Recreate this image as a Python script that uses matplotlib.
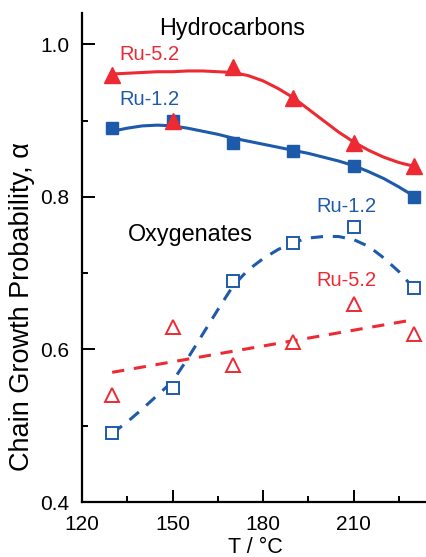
import matplotlib
matplotlib.use("Agg")
import matplotlib.pyplot as plt
from matplotlib.ticker import MultipleLocator

plt.rcParams["font.family"] = ["Liberation Sans", "DejaVu Sans"]

RED = "#ED2A33"
BLUE = "#1E5AAA"

# measured points
temps = [130, 150, 170, 190, 210, 230]
hc_ru52 = [0.96, 0.90, 0.97, 0.93, 0.87, 0.84]
hc_ru12 = [0.89, 0.90, 0.87, 0.86, 0.84, 0.80]
ox_ru12 = [0.49, 0.55, 0.69, 0.74, 0.76, 0.68]
ox_ru52 = [0.54, 0.63, 0.58, 0.61, 0.66, 0.62]

# trend lines
fit_t = [130, 135, 140, 145, 150, 155, 160, 165, 170, 175, 180,
         185, 190, 195, 200, 205, 210, 215, 220, 225, 230]
fit_hc_ru52 = [0.961, 0.962, 0.963, 0.964, 0.964, 0.965, 0.965, 0.964, 0.963, 0.959, 0.952,
               0.942, 0.930, 0.915, 0.900, 0.885, 0.872, 0.861, 0.852, 0.845, 0.840]
fit_hc_ru12 = [0.886, 0.890, 0.893, 0.894, 0.893, 0.890, 0.886, 0.882, 0.877, 0.873, 0.869,
               0.865, 0.861, 0.857, 0.852, 0.847, 0.841, 0.833, 0.824, 0.813, 0.801]
fit_ox_ru12 = [0.490, 0.505, 0.522, 0.540, 0.558, 0.588, 0.620, 0.652, 0.683, 0.704, 0.719,
               0.731, 0.740, 0.746, 0.748, 0.748, 0.744, 0.735, 0.720, 0.702, 0.680]
fit_ox_ru52_t = [130, 230]
fit_ox_ru52 = [0.570, 0.639]

xticks = [120, 150, 180, 210]
yticks = [0.4, 0.6, 0.8, 1.0]
ytick_labels = ["0.4", "0.6", "0.8", "1.0"]

fig = plt.figure(figsize=(4.26, 5.57), dpi=100)
ax = fig.add_axes([0.1925, 0.0987, 0.850, 0.878])

dash = (0, (4, 3.2))
ax.plot(fit_t, fit_hc_ru52, color=RED, lw=2.2)
ax.plot(fit_t, fit_hc_ru12, color=BLUE, lw=2.2)
ax.plot(fit_t, fit_ox_ru12, color=BLUE, lw=2.2, ls=dash)
ax.plot(fit_ox_ru52_t, fit_ox_ru52, color=RED, lw=2.2, ls=dash)

ax.plot(temps, hc_ru12, ls="none", marker="s", ms=8.5, color=BLUE)
ax.plot(temps, hc_ru52, ls="none", marker="^", ms=11, color=RED)
ax.plot(temps, ox_ru12, ls="none", marker="s", ms=8, mfc="white", mec=BLUE, mew=1.4)
ax.plot(temps, ox_ru52, ls="none", marker="^", ms=10.5, mfc="white", mec=RED, mew=1.4)

ax.text(169.7, 1.02, "Hydrocarbons", fontsize=16.8, ha="center", va="center")
ax.text(142.5, 0.986, "Ru-5.2", fontsize=14.5, color=RED, ha="center", va="center")
ax.text(142.5, 0.927, "Ru-1.2", fontsize=14.5, color=BLUE, ha="center", va="center")
ax.text(155.8, 0.751, "Oxygenates", fontsize=16.8, ha="center", va="center")
ax.text(207.5, 0.787, "Ru-1.2", fontsize=14.5, color=BLUE, ha="center", va="center")
ax.text(207.5, 0.690, "Ru-5.2", fontsize=14.5, color=RED, ha="center", va="center")

ax.set_xlim(120, 240)
ax.set_ylim(0.4, 1.041)
ax.set_xticks(xticks)
ax.xaxis.set_minor_locator(MultipleLocator(15))
ax.set_yticks(yticks, ytick_labels)
ax.yaxis.set_minor_locator(MultipleLocator(0.1))

for s in ["top", "right"]:
    ax.spines[s].set_visible(False)
for s in ["left", "bottom"]:
    ax.spines[s].set_linewidth(1.6)

ax.tick_params(which="both", direction="in", width=1.4, labelsize=15)
ax.tick_params(which="major", length=9)
ax.tick_params(which="minor", length=4.5)
ax.tick_params(axis="y", pad=9)
ax.tick_params(axis="x", pad=9)

ax.set_xlabel("T / °C", fontsize=15.5)
ax.set_ylabel("Chain Growth Probability, α", fontsize=19.5)
ax.xaxis.set_label_coords(0.48, -0.072)
ax.yaxis.set_label_coords(-0.13, 0.40)

fig.savefig("out.png", dpi=100)
